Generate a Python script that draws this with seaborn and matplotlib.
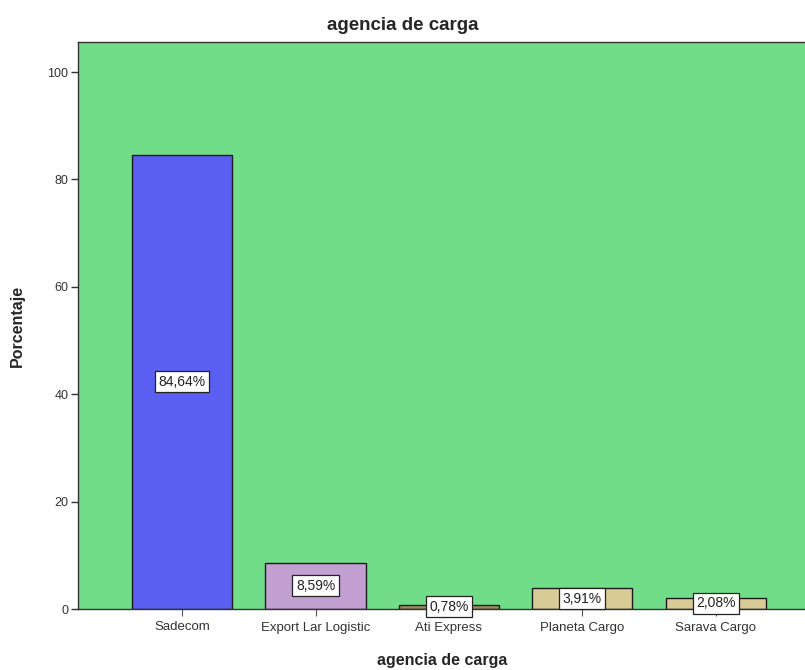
import matplotlib
matplotlib.use("Agg")
import matplotlib.pyplot as plt
import seaborn as sns
import pandas as pd

categorias = ["Sadecom", "Export Lar Logistic", "Ati Express", "Planeta Cargo", "Sarava Cargo"]
porcentajes = [84.64, 8.59, 0.78, 3.91, 2.08]
colores = ["#5a5ff2", "#c29fd1", "#9c8c5c", "#d8cb96", "#d8cb96"]
yticks = [0, 20, 40, 60, 80, 100]

sns.set_style("white")
plt.rcParams["font.family"] = ["Liberation Sans", "DejaVu Sans"]

df = pd.DataFrame({"agencia": categorias, "pct": porcentajes})

fig = plt.figure(figsize=(8.05, 6.7), dpi=100)
ax = fig.add_axes([78 / 805, 61 / 670, 1 - 78 / 805 + 0.002, (609 - 42) / 670])
ax.set_facecolor("#72dd88")

sns.barplot(data=df, x="agencia", y="pct", hue="agencia", palette=colores,
            order=categorias, hue_order=categorias, legend=False, saturation=1,
            width=0.75, edgecolor="#1a1a1a", linewidth=1.0, ax=ax)

for i, v in enumerate(porcentajes):
    ax.text(i, v / 2, f"{v:.2f}%".replace(".", ","), ha="center", va="center",
            fontsize=10, color="#222222",
            bbox=dict(boxstyle="square,pad=0.25", fc="white", ec="#222222", lw=0.9))

ax.set_xlim(-0.78, 4.68)
ax.set_ylim(0, 105.6)
ax.set_yticks(yticks)
ax.set_yticklabels([str(t) for t in yticks], fontsize=9, color="#333333")
ax.tick_params(axis="x", labelsize=9.5, labelcolor="#333333", length=5, width=0.8,
               direction="out", bottom=True, color="#555555", pad=4)
ax.tick_params(axis="y", length=5, width=1.0, direction="out", left=True,
               color="#333333", pad=2)

for side in ["left", "top", "bottom"]:
    ax.spines[side].set_visible(True)
    ax.spines[side].set_color("#333333")
    ax.spines[side].set_linewidth(1.0)
ax.spines["right"].set_visible(False)

ax.set_xlabel("agencia de carga", fontsize=11.5, fontweight="bold", labelpad=14)
ax.set_ylabel("Porcentaje", fontsize=11.5, fontweight="bold", labelpad=16)
fig.text(0.5, 1 - 26 / 670, "agencia de carga", ha="center", va="center",
         fontsize=13.5, fontweight="bold")

fig.savefig("out.png", dpi=100)
